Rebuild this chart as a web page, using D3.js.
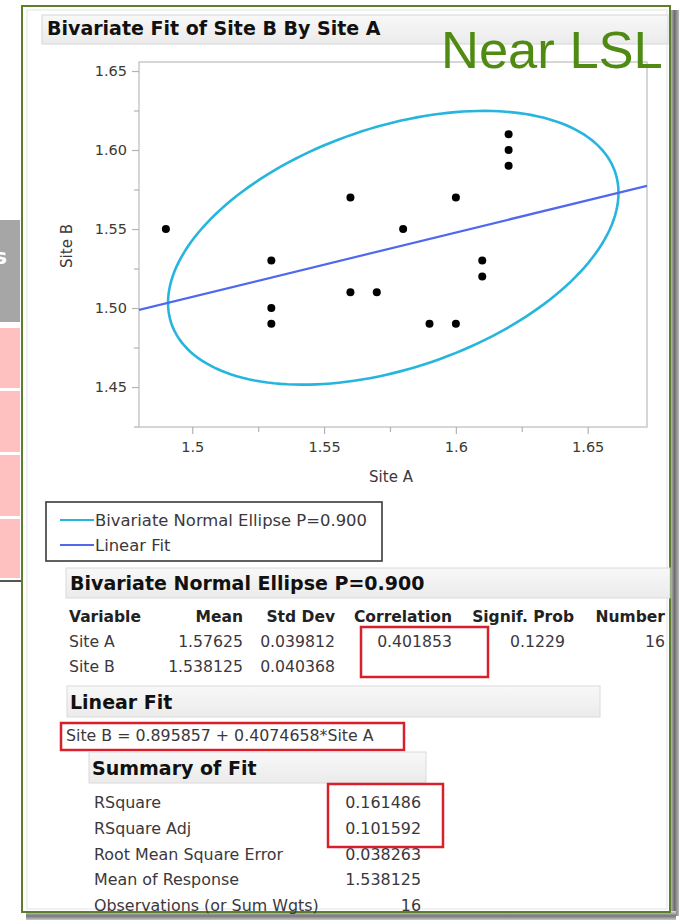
<!DOCTYPE html>
<html>
<head>
<meta charset="utf-8">
<script src="https://cdn.jsdelivr.net/npm/d3@7"></script>
<style>
  body { margin: 0; background: #fff; }
  svg { display: block; font-family: "DejaVu Sans", "Noto Sans", sans-serif; }
</style>
</head>
<body>
<div id="chart"></div>
<script>
// data
const siteA = [1.49, 1.53, 1.53, 1.53, 1.56, 1.56, 1.57, 1.58, 1.59, 1.60, 1.60, 1.61, 1.61, 1.62, 1.62, 1.62];
const siteB = [1.55, 1.53, 1.50, 1.49, 1.57, 1.51, 1.51, 1.55, 1.49, 1.57, 1.49, 1.53, 1.52, 1.61, 1.60, 1.59];

const xTicks = [1.5, 1.55, 1.6, 1.65];
const xTickLabels = ["1.5", "1.55", "1.6", "1.65"];
const xMinor = [1.525, 1.575, 1.625];
const yTicks = [1.45, 1.50, 1.55, 1.60, 1.65];
const yMinor = [1.425, 1.475, 1.525, 1.575, 1.625];

// ellipse stats
const ellipseP = 0.900;
const means = [1.57625, 1.538125];
const stdDevs = [0.039812, 0.040368];
const correlation = 0.401853;

// linear fit
const fitIntercept = 0.895857;
const fitSlope = 0.4074658;

const tableVars = ["Site A", "Site B"];
const tableMean = ["1.57625", "1.538125"];
const tableStd = ["0.039812", "0.040368"];
const tableCorr = ["0.401853", ""];
const tableSig = ["0.1229", ""];
const tableNum = ["16", ""];

const summaryLabels = ["RSquare", "RSquare Adj", "Root Mean Square Error", "Mean of Response", "Observations (or Sum Wgts)"];
const summaryValues = ["0.161486", "0.101592", "0.038263", "1.538125", "16"];

const width = 679, height = 920;
const textCol = "#3b383d";

const svg = d3.select("#chart")
  .append("svg")
  .attr("width", width)
  .attr("height", height);

const defs = svg.append("defs");
const barGrad = defs.append("linearGradient").attr("id", "barGrad").attr("x1", 0).attr("y1", 0).attr("x2", 0).attr("y2", 1);
barGrad.append("stop").attr("offset", "0%").attr("stop-color", "#f8f8f8");
barGrad.append("stop").attr("offset", "100%").attr("stop-color", "#ebebeb");
const shadowR = defs.append("linearGradient").attr("id", "shadowR").attr("x1", 0).attr("y1", 0).attr("x2", 1).attr("y2", 0);
shadowR.append("stop").attr("offset", "0%").attr("stop-color", "#dcdcdc");
shadowR.append("stop").attr("offset", "55%").attr("stop-color", "#6e6e6e");
shadowR.append("stop").attr("offset", "100%").attr("stop-color", "#b8b8b8");
const shadowB = defs.append("linearGradient").attr("id", "shadowB").attr("x1", 0).attr("y1", 0).attr("x2", 0).attr("y2", 1);
shadowB.append("stop").attr("offset", "0%").attr("stop-color", "#dcdcdc");
shadowB.append("stop").attr("offset", "55%").attr("stop-color", "#767676");
shadowB.append("stop").attr("offset", "100%").attr("stop-color", "#c8c8c8");

// left strip (leftover slide boxes)
svg.append("rect").attr("x", 0).attr("y", 220).attr("width", 20).attr("height", 102).attr("fill", "#a6a6a6");
svg.append("text").attr("x", -6).attr("y", 264).attr("fill", "#fff").attr("font-size", 22).attr("font-weight", "bold").text("s");
[[328, 60], [391, 61], [455, 61], [519, 59]].forEach(function (b) {
  svg.append("rect").attr("x", 0).attr("y", b[0]).attr("width", 20).attr("height", b[1]).attr("fill", "#ffc0c0");
});
svg.append("rect").attr("x", 0).attr("y", 580).attr("width", 21).attr("height", 2).attr("fill", "#555");

// panel with shadow
svg.append("rect").attr("x", 669).attr("y", 10).attr("width", 10).attr("height", 906).attr("fill", "url(#shadowR)");
svg.append("rect").attr("x", 26).attr("y", 911).attr("width", 650).attr("height", 9).attr("fill", "url(#shadowB)");
svg.append("rect").attr("x", 22).attr("y", 6).attr("width", 648).attr("height", 906)
  .attr("fill", "#fff").attr("stroke", "#5b7f2c").attr("stroke-width", 2);
svg.append("rect").attr("x", 27).attr("y", 10).attr("width", 640).attr("height", 899)
  .attr("fill", "none").attr("stroke", "#e4e4e4").attr("stroke-width", 1);

// title bar
svg.append("rect").attr("x", 42).attr("y", 15).attr("width", 626).attr("height", 29)
  .attr("fill", "url(#barGrad)").attr("stroke", "#d6d6d6");
svg.append("text").attr("x", 47).attr("y", 35).attr("font-size", 19).attr("font-weight", "bold")
  .attr("fill", "#111").text("Bivariate Fit of Site B By Site A");

// plot area
const plot = { left: 139, top: 62, right: 647, bottom: 427 };

const x = d3.scaleLinear().domain([1.4798, 1.6725]).range([plot.left, plot.right]);
const y = d3.scaleLinear().domain([1.4247, 1.6557]).range([plot.bottom, plot.top]);

svg.append("rect")
  .attr("x", plot.left).attr("y", plot.top)
  .attr("width", plot.right - plot.left).attr("height", plot.bottom - plot.top)
  .attr("fill", "#fff").attr("stroke", "#c9c9c9").attr("stroke-width", 1.5);

// axes
svg.append("g").attr("transform", "translate(0," + plot.bottom + ")")
  .call(d3.axisBottom(x).tickValues(xTicks).tickFormat((d, i) => xTickLabels[i]).tickSize(7).tickPadding(8));
svg.append("g").attr("transform", "translate(0," + plot.bottom + ")")
  .call(d3.axisBottom(x).tickValues(xMinor).tickFormat("").tickSize(5));
svg.append("g").attr("transform", "translate(" + plot.left + ",0)")
  .call(d3.axisLeft(y).tickValues(yTicks).tickFormat(d3.format(".2f")).tickSize(7).tickPadding(5));
svg.append("g").attr("transform", "translate(" + plot.left + ",0)")
  .call(d3.axisLeft(y).tickValues(yMinor).tickFormat("").tickSize(5));

svg.selectAll(".domain").remove();
svg.selectAll(".tick line").attr("stroke", "#b3b3b3").attr("stroke-width", 1.2);
svg.selectAll(".tick text").attr("font-size", 14.5).attr("fill", "#3d3a33")
  .attr("font-family", "\"DejaVu Sans\", sans-serif");

svg.append("text").attr("x", 391).attr("y", 482).attr("text-anchor", "middle")
  .attr("font-size", 15).attr("fill", textCol).text("Site A");
svg.append("text").attr("transform", "translate(72,246) rotate(-90)").attr("text-anchor", "middle")
  .attr("font-size", 15).attr("fill", textCol).text("Site B");

const clip = defs.append("clipPath").attr("id", "plotClip");
clip.append("rect").attr("x", plot.left).attr("y", plot.top)
  .attr("width", plot.right - plot.left).attr("height", plot.bottom - plot.top);

const layer = svg.append("g").attr("clip-path", "url(#plotClip)");

// bivariate normal ellipse from the stats
const c = Math.sqrt(-2 * Math.log(1 - ellipseP));
const angles = d3.range(0, 361, 2).map(d => d * Math.PI / 180);
const ellipsePts = angles.map(t => [
  means[0] + c * stdDevs[0] * Math.cos(t),
  means[1] + c * stdDevs[1] * (correlation * Math.cos(t) + Math.sqrt(1 - correlation * correlation) * Math.sin(t))
]);
layer.append("path")
  .datum(ellipsePts)
  .attr("d", d3.line().x(d => x(d[0])).y(d => y(d[1])).curve(d3.curveLinearClosed))
  .attr("fill", "none").attr("stroke", "#26b5dd").attr("stroke-width", 2.6);

// linear fit
const xd = x.domain();
layer.append("path")
  .datum(xd.map(v => [v, fitIntercept + fitSlope * v]))
  .attr("d", d3.line().x(d => x(d[0])).y(d => y(d[1])))
  .attr("stroke", "#5068ee").attr("stroke-width", 2.2).attr("fill", "none");

// points
layer.selectAll("circle")
  .data(siteA.map((a, i) => [a, siteB[i]]))
  .join("circle")
  .attr("cx", d => x(d[0]))
  .attr("cy", d => y(d[1]))
  .attr("r", 4)
  .attr("fill", "#000");

// Near LSL
svg.append("text").attr("x", 441).attr("y", 68).attr("font-family", "\"Liberation Sans\", Arial, sans-serif")
  .attr("font-size", 52.5).attr("fill", "#4f8a12").text("Near LSL");

// legend
svg.append("rect").attr("x", 46).attr("y", 502).attr("width", 336).attr("height", 59)
  .attr("fill", "#fff").attr("stroke", "#3a3a3a").attr("stroke-width", 1.6);
const legendItems = [["Bivariate Normal Ellipse P=0.900", "#26b5dd"], ["Linear Fit", "#5068ee"]];
legendItems.forEach(function (it, i) {
  const ly = 520 + i * 25;
  svg.append("line").attr("x1", 60).attr("x2", 94).attr("y1", ly).attr("y2", ly)
    .attr("stroke", it[1]).attr("stroke-width", 2.2);
  svg.append("text").attr("x", 95).attr("y", ly + 6).attr("font-size", 16.4).attr("fill", textCol).text(it[0]);
});

// Bivariate Normal Ellipse table
svg.append("rect").attr("x", 66).attr("y", 568).attr("width", 604).attr("height", 30)
  .attr("fill", "url(#barGrad)").attr("stroke", "#dadada");
svg.append("text").attr("x", 70).attr("y", 590).attr("font-size", 19).attr("font-weight", "bold")
  .attr("fill", "#111").text("Bivariate Normal Ellipse P=0.900");

const cols = [
  { head: "Variable", x: 69, anchor: "start", vals: tableVars, vx: 69 },
  { head: "Mean", x: 243, anchor: "end", vals: tableMean, vx: 243 },
  { head: "Std Dev", x: 335, anchor: "end", vals: tableStd, vx: 335 },
  { head: "Correlation", x: 452, anchor: "end", vals: tableCorr, vx: 452 },
  { head: "Signif. Prob", x: 574, anchor: "end", vals: tableSig, vx: 565 },
  { head: "Number", x: 665, anchor: "end", vals: tableNum, vx: 665 }
];
cols.forEach(function (col) {
  svg.append("text").attr("x", col.x).attr("y", 622).attr("text-anchor", col.anchor)
    .attr("font-size", 15.5).attr("font-weight", "bold").attr("fill", "#222").text(col.head);
  col.vals.forEach(function (v, i) {
    svg.append("text").attr("x", col.vx).attr("y", 647 + i * 25).attr("text-anchor", col.anchor)
      .attr("font-size", 15.7).attr("fill", textCol).text(v);
  });
});
svg.append("rect").attr("x", 361).attr("y", 627).attr("width", 127).attr("height", 50)
  .attr("fill", "none").attr("stroke", "#d8202c").attr("stroke-width", 2.5);

// Linear Fit
svg.append("rect").attr("x", 67).attr("y", 686).attr("width", 533).attr("height", 31)
  .attr("fill", "url(#barGrad)").attr("stroke", "#dadada");
svg.append("text").attr("x", 70).attr("y", 709).attr("font-size", 19).attr("font-weight", "bold")
  .attr("fill", "#111").text("Linear Fit");
svg.append("text").attr("x", 66).attr("y", 741).attr("font-size", 15.8).attr("fill", textCol)
  .text("Site B = " + fitIntercept + " + " + fitSlope + "*Site A");
svg.append("rect").attr("x", 61).attr("y", 723).attr("width", 343).attr("height", 27)
  .attr("fill", "none").attr("stroke", "#d8202c").attr("stroke-width", 2.5);

// Summary of Fit
svg.append("rect").attr("x", 89).attr("y", 752).attr("width", 337).attr("height", 31)
  .attr("fill", "url(#barGrad)").attr("stroke", "#dadada");
svg.append("text").attr("x", 92).attr("y", 775).attr("font-size", 19).attr("font-weight", "bold")
  .attr("fill", "#111").text("Summary of Fit");
summaryLabels.forEach(function (lab, i) {
  const ry = 808 + i * 25.8;
  svg.append("text").attr("x", 94).attr("y", ry).attr("font-size", 15.9).attr("fill", textCol).text(lab);
  svg.append("text").attr("x", 421).attr("y", ry).attr("text-anchor", "end")
    .attr("font-size", 15.9).attr("fill", textCol).text(summaryValues[i]);
});
svg.append("rect").attr("x", 328).attr("y", 784).attr("width", 115).attr("height", 63)
  .attr("fill", "none").attr("stroke", "#d8202c").attr("stroke-width", 2.5);
</script>
</body>
</html>
